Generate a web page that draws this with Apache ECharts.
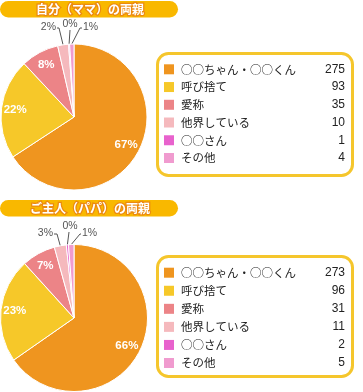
<!DOCTYPE html>
<html><head><meta charset="utf-8">
<script src="https://cdn.jsdelivr.net/npm/echarts@6/dist/echarts.min.js"></script>
<style>html,body{margin:0;padding:0;background:#fff}#c{width:363px;height:392px}</style>
</head><body><div id="c"></div>
<script>
const categories = ['○○ちゃん・○○くん','呼び捨て','愛称','他界している','○○さん','その他'];
const momValues = [275, 93, 35, 10, 1, 4];
const dadValues = [273, 96, 31, 11, 2, 5];
const momPercentLabels = ['67%','22%','8%','2%','0%','1%'];
const dadPercentLabels = ['66%','23%','7%','3%','0%','1%'];
const titles = ['自分（ママ）の両親', 'ご主人（パパ）の両親'];
const colors = ['#EF951F','#F6C829','#EC8487','#F5B9BD','#E862CD','#F09BCF'];

const chart = echarts.init(document.getElementById('c'), null, {renderer:'canvas'});

const smallLayouts = {
  mom: {3:{x:56,y:27,align:'right',elbow:[59,28]}, 4:{x:70,y:24,align:'center',elbow:[70,30]}, 5:{x:83,y:27,align:'left',elbow:[80,28]}},
  dad: {3:{x:53,y:233,align:'right',elbow:[57,234]}, 4:{x:70,y:226,align:'center',elbow:[69,232]}, 5:{x:82,y:233,align:'left',elbow:[80,234]}}
};

function makeSeries(key, values, pct, center, radius){
  return {
    type:'pie', name:key, center:center, radius:[0, radius], startAngle:90, clockwise:true,
    avoidLabelOverlap:false,
    itemStyle:{borderColor:'#fff', borderWidth:1},
    emphasis:{disabled:true},
    data: categories.map((n,i)=>({
      name:n, value:values[i], itemStyle:{color:colors[i]},
      label: i<3 ? {show:true, position:'inside', formatter:pct[i], color:'#fff', fontWeight:'bold', fontSize:11.5, fontFamily:'Liberation Sans'}
                 : {show:true, position:'outside', formatter:pct[i], color:'#555', fontSize:10.5, fontFamily:'Liberation Sans'},
      labelLine: i<3 ? {show:false} : {show:true, length:6, length2:4, lineStyle:{color:'#555', width:1}}
    })),
    labelLayout: function(p){
      const i = p.dataIndex;
      if (i < 3) {
        const r = p.labelRect;
        const lx = r.x + r.width/2, ly = r.y + r.height/2;
        return {dx:(lx-center[0])*0.5, dy:(ly-center[1])*0.5};
      }
      const s = smallLayouts[key][i];
      const p0 = p.labelLinePoints ? p.labelLinePoints[0] : s.elbow;
      const endX = s.align==='right' ? s.x+1 : (s.align==='left' ? s.x-1 : s.x);
      return {x:s.x, y:s.y, align:s.align, verticalAlign:'middle',
        labelLinePoints:[p0, s.elbow, s.align==='center'? s.elbow : [endX, s.elbow[1]]]};
    }
  };
}

function makeLegend(values, top, gap){
  return {
    orient:'vertical', left:164, top:top, itemWidth:10, itemHeight:10, itemGap:gap,
    icon:'rect', padding:0, selectedMode:false, data:categories,
    itemStyle:{borderWidth:0},
    formatter: n => '{n|' + n + '}{v|' + values[categories.indexOf(n)] + '}',
    textStyle:{rich:{
      n:{width:132, fontSize:11.5, lineHeight:12, color:'#222', fontFamily:'Noto Sans CJK JP', padding:[0,0,0,2]},
      v:{width:32, align:'right', fontSize:12, lineHeight:12, color:'#222', fontFamily:'Liberation Sans'}
    }}
  };
}

function titleBar(y, text){
  return [
    {type:'rect', shape:{x:0, y:y, width:178, height:16.5, r:8.25}, style:{fill:'#F9B800'}},
    {type:'text', x:90, y:y+8.5, style:{text:text, fill:'#fff', stroke:'#EC8A10', lineWidth:2.5,
      font:'bold 12px "Noto Sans CJK JP"', align:'center', verticalAlign:'middle'}}
  ];
}

chart.setOption({
  animation:false,
  graphic: [
    {type:'rect', z:-1, shape:{x:157.5, y:53.5, width:195, height:122, r:11}, style:{fill:'#fff', stroke:'#F5C62C', lineWidth:3}},
    {type:'rect', z:-1, shape:{x:157.5, y:256.5, width:195, height:120, r:11}, style:{fill:'#fff', stroke:'#F5C62C', lineWidth:3}},
    ...titleBar(1, titles[0]),
    ...titleBar(200, titles[1])
  ],
  legend: [ makeLegend(momValues, 63.3, 5.74), makeLegend(dadValues, 266.7, 6.06) ],
  series: [
    makeSeries('mom', momValues, momPercentLabels, [74,117], 73),
    makeSeries('dad', dadValues, dadPercentLabels, [74,318], 73.5)
  ]
});
</script>
</body></html>
